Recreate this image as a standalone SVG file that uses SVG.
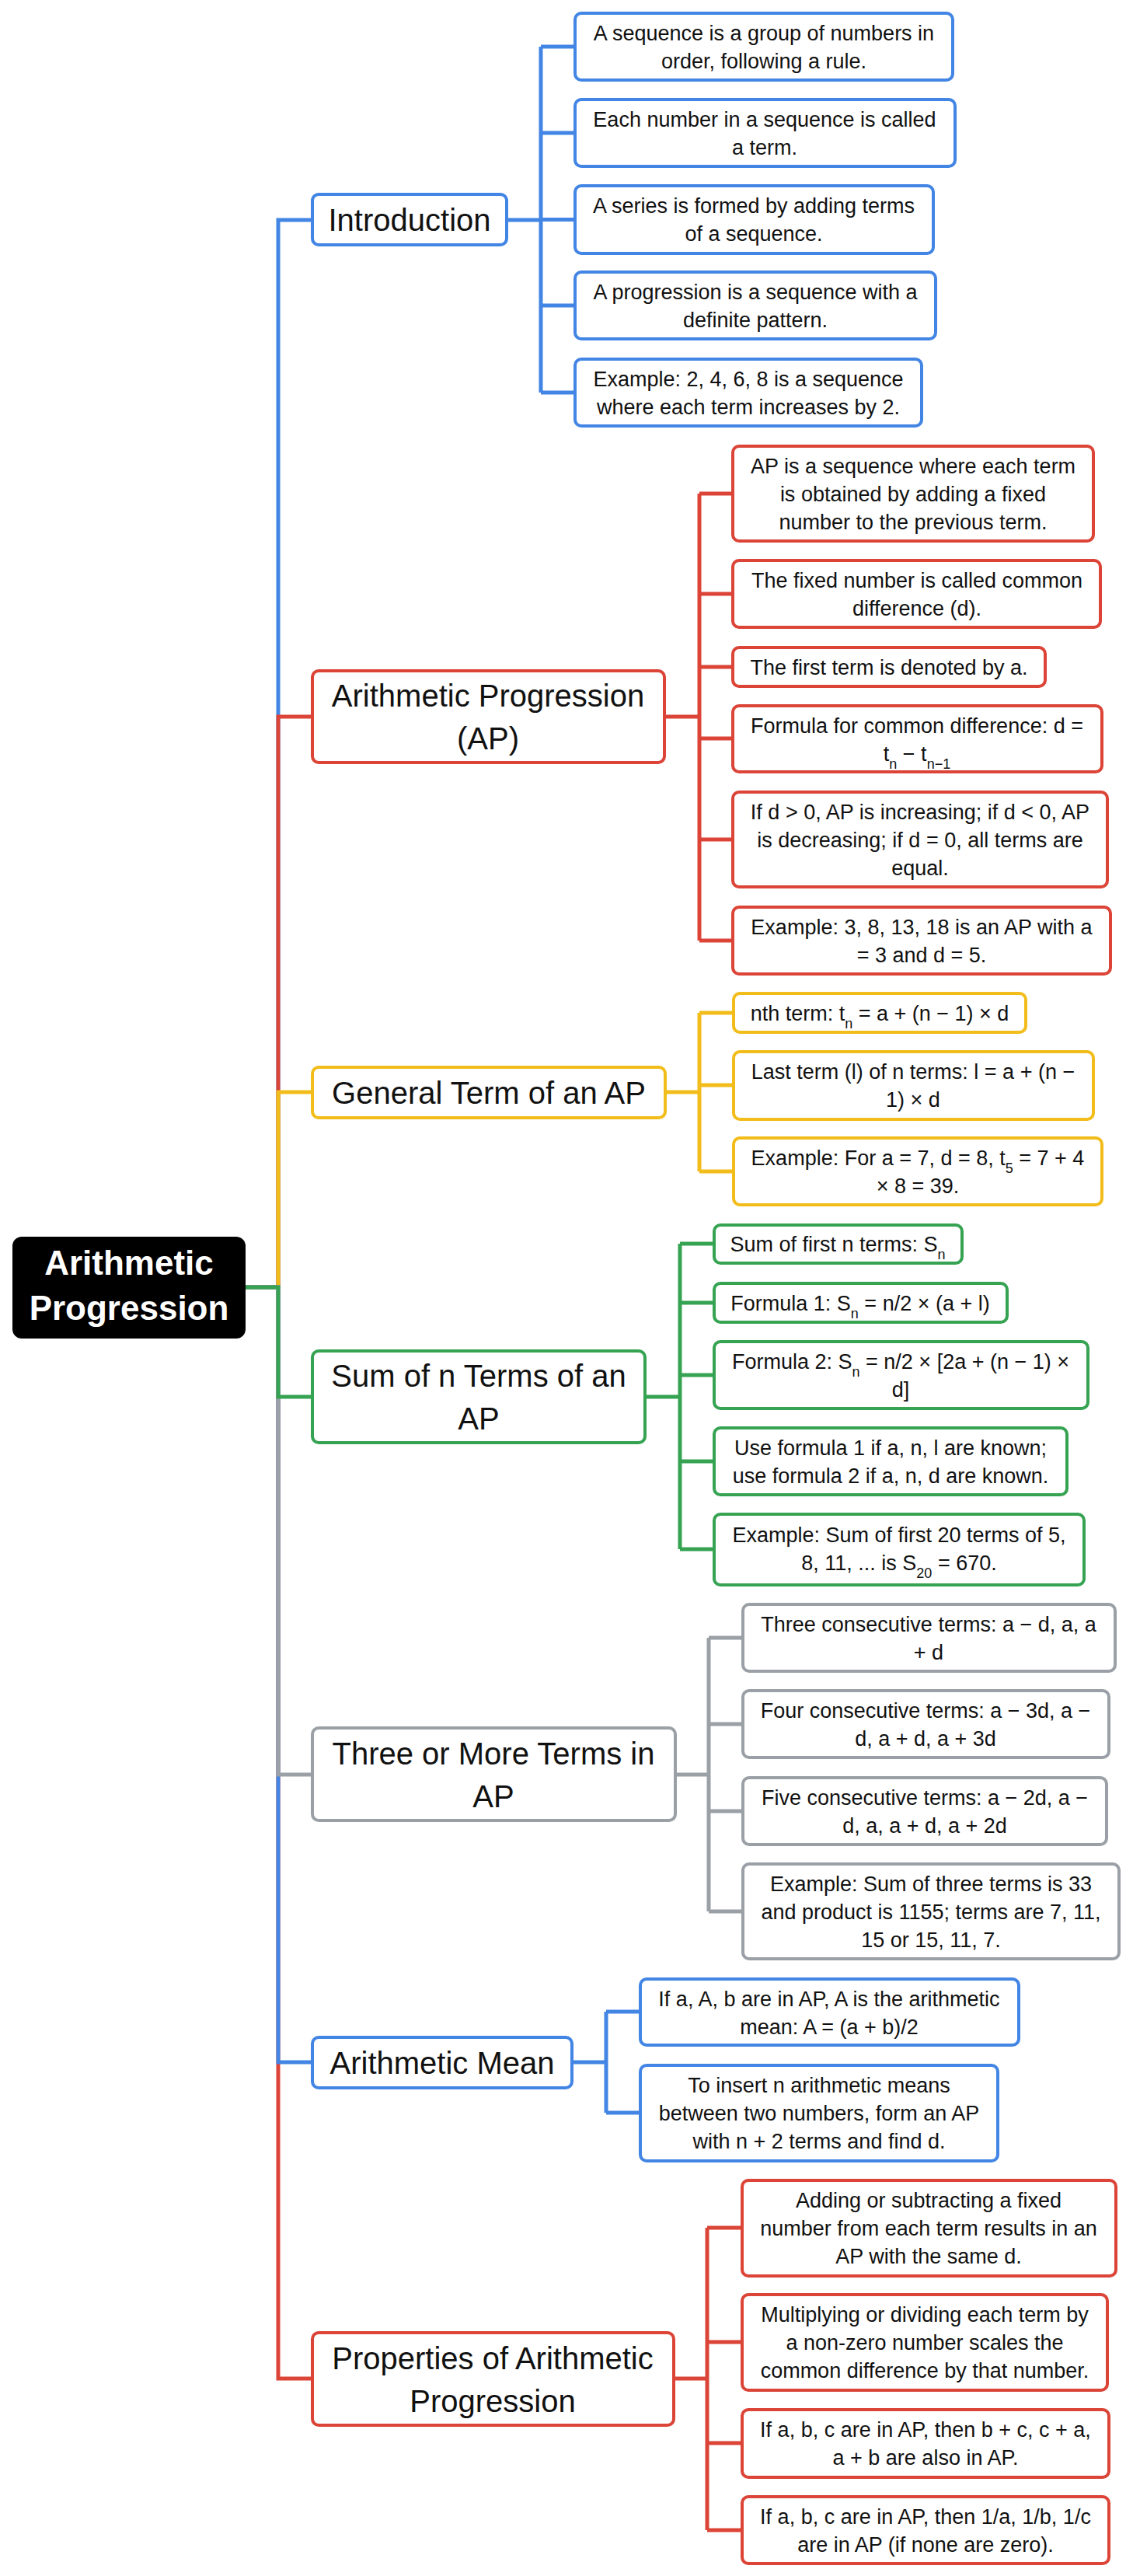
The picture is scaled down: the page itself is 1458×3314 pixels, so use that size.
<svg xmlns="http://www.w3.org/2000/svg" width="1458" height="3314" viewBox="0 0 1458 3314">
<style>
.bx{fill:#fff;stroke-width:4}
.lf{font-family:"Liberation Sans",Arial,sans-serif;font-size:27px;fill:#111;text-anchor:middle}
.tt{font-family:"Liberation Sans",Arial,sans-serif;font-size:40px;fill:#111;text-anchor:middle}
.c{fill:none;stroke-width:5}
.b{stroke:#4285e4}.r{stroke:#db4437}.y{stroke:#f2bd1b}.g{stroke:#36a352}.k{stroke:#9aa0a6}
.s{font-size:18px;baseline-shift:sub}
</style>
<rect width="1458" height="3314" fill="#fff"/>
<g id="connectors">
<path class="c b" d="M316,1656H358V283H402"/>
<path class="c r" d="M316,1656H358V922H402"/>
<path class="c y" d="M316,1656H358V1405H402"/>
<path class="c r" d="M316,1656H358V3060H402"/>
<path class="c b" d="M316,1656H358V2653H402"/>
<path class="c k" d="M316,1656H358V2283H402"/>
<path class="c g" d="M316,1656H358V1797H402"/>
<path class="c b" d="M652,283H696M696,60V505M696,60H740M696,171H740M696,282.5H740M696,393H740M696,505H740"/>
<path class="c r" d="M855,922H900M900,635V1210M900,635H943M900,764H943M900,858H943M900,950H943M900,1080H943M900,1210H943"/>
<path class="c y" d="M856,1405H900M900,1303V1507M900,1303H944M900,1396H944M900,1507H944"/>
<path class="c g" d="M830,1797H875M875,1600V1993M875,1600H919M875,1676H919M875,1769H919M875,1880H919M875,1993H919"/>
<path class="c k" d="M869,2283H912M912,2107V2459M912,2107H956M912,2218H956M912,2330H956M912,2459H956"/>
<path class="c b" d="M736,2653H780M780,2588V2718M780,2588H824M780,2718H824"/>
<path class="c r" d="M867,3060H910M910,2866V3255M910,2866H955M910,3013H955M910,3143H955M910,3255H955"/>
</g>
<g id="root"><rect x="16" y="1591" width="300" height="131" rx="12" fill="#000"/>
<text font-family="Liberation Sans,Arial,sans-serif" font-weight="bold" font-size="44" fill="#fff" text-anchor="middle"><tspan x="166" y="1640">Arithmetic</tspan><tspan x="166" y="1698">Progression</tspan></text></g>

<g id="intro"><rect class="bx b" x="402" y="250" width="250" height="65" rx="8"/><text class="tt" x="527" y="297">Introduction</text></g>
<g id="i1"><rect class="bx b" x="740" y="17" width="486" height="86" rx="8"/><text class="lf"><tspan x="983" y="52">A sequence is a group of numbers in</tspan><tspan x="983" y="88">order, following a rule.</tspan></text></g>
<g id="i2"><rect class="bx b" x="740" y="128" width="489" height="86" rx="8"/><text class="lf"><tspan x="984" y="163">Each number in a sequence is called</tspan><tspan x="984" y="199">a term.</tspan></text></g>
<g id="i3"><rect class="bx b" x="740" y="239" width="461" height="87" rx="8"/><text class="lf"><tspan x="970" y="274">A series is formed by adding terms</tspan><tspan x="970" y="310">of a sequence.</tspan></text></g>
<g id="i4"><rect class="bx b" x="740" y="350" width="464" height="86" rx="8"/><text class="lf"><tspan x="972" y="385">A progression is a sequence with a</tspan><tspan x="972" y="421">definite pattern.</tspan></text></g>
<g id="i5"><rect class="bx b" x="740" y="462" width="446" height="86" rx="8"/><text class="lf"><tspan x="963" y="497">Example: 2, 4, 6, 8 is a sequence</tspan><tspan x="963" y="533">where each term increases by 2.</tspan></text></g>

<g id="ap"><rect class="bx r" x="402" y="863" width="453" height="118" rx="8"/><text class="tt"><tspan x="628" y="909">Arithmetic Progression</tspan><tspan x="628" y="964">(AP)</tspan></text></g>
<g id="a1"><rect class="bx r" x="943" y="574" width="464" height="122" rx="8"/><text class="lf"><tspan x="1175" y="609">AP is a sequence where each term</tspan><tspan x="1175" y="645">is obtained by adding a fixed</tspan><tspan x="1175" y="681">number to the previous term.</tspan></text></g>
<g id="a2"><rect class="bx r" x="943" y="721" width="473" height="86" rx="8"/><text class="lf"><tspan x="1180" y="756">The fixed number is called common</tspan><tspan x="1180" y="792">difference (d).</tspan></text></g>
<g id="a3"><rect class="bx r" x="943" y="833" width="402" height="50" rx="8"/><text class="lf" x="1144" y="868">The first term is denoted by a.</text></g>
<g id="a4"><rect class="bx r" x="943" y="908" width="475" height="85" rx="8"/><text class="lf"><tspan x="1180" y="943">Formula for common difference: d =</tspan><tspan x="1180" y="979">t<tspan class="s">n</tspan> − t<tspan class="s">n−1</tspan></tspan></text></g>
<g id="a5"><rect class="bx r" x="943" y="1019" width="482" height="122" rx="8"/><text class="lf"><tspan x="1184" y="1054">If d &gt; 0, AP is increasing; if d &lt; 0, AP</tspan><tspan x="1184" y="1090">is decreasing; if d = 0, all terms are</tspan><tspan x="1184" y="1126">equal.</tspan></text></g>
<g id="a6"><rect class="bx r" x="943" y="1167" width="486" height="86" rx="8"/><text class="lf"><tspan x="1186" y="1202">Example: 3, 8, 13, 18 is an AP with a</tspan><tspan x="1186" y="1238">= 3 and d = 5.</tspan></text></g>

<g id="gen"><rect class="bx y" x="402" y="1373" width="454" height="65" rx="8"/><text class="tt" x="629" y="1420">General Term of an AP</text></g>
<g id="g1"><rect class="bx y" x="944" y="1278" width="376" height="50" rx="8"/><text class="lf" x="1132" y="1313">nth term: t<tspan class="s">n</tspan><tspan> = a + (n − 1) × d</tspan></text></g>
<g id="g2"><rect class="bx y" x="944" y="1353" width="463" height="87" rx="8"/><text class="lf"><tspan x="1175" y="1388">Last term (l) of n terms: l = a + (n −</tspan><tspan x="1175" y="1424">1) × d</tspan></text></g>
<g id="g3"><rect class="bx y" x="944" y="1464" width="474" height="86" rx="8"/><text class="lf"><tspan x="1181" y="1499">Example: For a = 7, d = 8, t<tspan class="s">5</tspan><tspan> = 7 + 4</tspan></tspan><tspan x="1181" y="1535">× 8 = 39.</tspan></text></g>

<g id="sum"><rect class="bx g" x="402" y="1738" width="428" height="118" rx="8"/><text class="tt"><tspan x="616" y="1784">Sum of n Terms of an</tspan><tspan x="616" y="1839">AP</tspan></text></g>
<g id="s1"><rect class="bx g" x="919" y="1576" width="319" height="49" rx="8"/><text class="lf" x="1078" y="1610">Sum of first n terms: S<tspan class="s">n</tspan></text></g>
<g id="s2"><rect class="bx g" x="919" y="1651" width="377" height="50" rx="8"/><text class="lf" x="1107" y="1686">Formula 1: S<tspan class="s">n</tspan><tspan> = n/2 × (a + l)</tspan></text></g>
<g id="s3"><rect class="bx g" x="919" y="1726" width="481" height="86" rx="8"/><text class="lf"><tspan x="1159" y="1761">Formula 2: S<tspan class="s">n</tspan><tspan> = n/2 × [2a + (n − 1) ×</tspan></tspan><tspan x="1159" y="1797">d]</tspan></text></g>
<g id="s4"><rect class="bx g" x="919" y="1837" width="454" height="86" rx="8"/><text class="lf"><tspan x="1146" y="1872">Use formula 1 if a, n, l are known;</tspan><tspan x="1146" y="1908">use formula 2 if a, n, d are known.</tspan></text></g>
<g id="s5"><rect class="bx g" x="919" y="1948" width="476" height="91" rx="8"/><text class="lf"><tspan x="1157" y="1984">Example: Sum of first 20 terms of 5,</tspan><tspan x="1157" y="2020">8, 11, ... is S<tspan class="s">20</tspan><tspan> = 670.</tspan></tspan></text></g>

<g id="three"><rect class="bx k" x="402" y="2223" width="467" height="119" rx="8"/><text class="tt"><tspan x="635" y="2270">Three or More Terms in</tspan><tspan x="635" y="2325">AP</tspan></text></g>
<g id="t1"><rect class="bx k" x="956" y="2064" width="479" height="86" rx="8"/><text class="lf"><tspan x="1195" y="2099">Three consecutive terms: a − d, a, a</tspan><tspan x="1195" y="2135">+ d</tspan></text></g>
<g id="t2"><rect class="bx k" x="956" y="2175" width="471" height="86" rx="8"/><text class="lf"><tspan x="1191" y="2210">Four consecutive terms: a − 3d, a −</tspan><tspan x="1191" y="2246">d, a + d, a + 3d</tspan></text></g>
<g id="t3"><rect class="bx k" x="956" y="2287" width="468" height="86" rx="8"/><text class="lf"><tspan x="1190" y="2322">Five consecutive terms: a − 2d, a −</tspan><tspan x="1190" y="2358">d, a, a + d, a + 2d</tspan></text></g>
<g id="t4"><rect class="bx k" x="956" y="2398" width="484" height="122" rx="8"/><text class="lf"><tspan x="1198" y="2433">Example: Sum of three terms is 33</tspan><tspan x="1198" y="2469">and product is 1155; terms are 7, 11,</tspan><tspan x="1198" y="2505">15 or 15, 11, 7.</tspan></text></g>

<g id="mean"><rect class="bx b" x="402" y="2621" width="334" height="65" rx="8"/><text class="tt" x="569" y="2668">Arithmetic Mean</text></g>
<g id="m1"><rect class="bx b" x="824" y="2546" width="487" height="85" rx="8"/><text class="lf"><tspan x="1067" y="2581">If a, A, b are in AP, A is the arithmetic</tspan><tspan x="1067" y="2617">mean: A = (a + b)/2</tspan></text></g>
<g id="m2"><rect class="bx b" x="824" y="2657" width="460" height="123" rx="8"/><text class="lf"><tspan x="1054" y="2692">To insert n arithmetic means</tspan><tspan x="1054" y="2728">between two numbers, form an AP</tspan><tspan x="1054" y="2764">with n + 2 terms and find d.</tspan></text></g>

<g id="props"><rect class="bx r" x="402" y="3001" width="465" height="119" rx="8"/><text class="tt"><tspan x="634" y="3048">Properties of Arithmetic</tspan><tspan x="634" y="3103">Progression</tspan></text></g>
<g id="p1"><rect class="bx r" x="955" y="2805" width="481" height="123" rx="8"/><text class="lf"><tspan x="1195" y="2840">Adding or subtracting a fixed</tspan><tspan x="1195" y="2876">number from each term results in an</tspan><tspan x="1195" y="2912">AP with the same d.</tspan></text></g>
<g id="p2"><rect class="bx r" x="955" y="2952" width="470" height="123" rx="8"/><text class="lf"><tspan x="1190" y="2987">Multiplying or dividing each term by</tspan><tspan x="1190" y="3023">a non-zero number scales the</tspan><tspan x="1190" y="3059">common difference by that number.</tspan></text></g>
<g id="p3"><rect class="bx r" x="955" y="3100" width="472" height="87" rx="8"/><text class="lf"><tspan x="1191" y="3135">If a, b, c are in AP, then b + c, c + a,</tspan><tspan x="1191" y="3171">a + b are also in AP.</tspan></text></g>
<g id="p4"><rect class="bx r" x="955" y="3212" width="472" height="86" rx="8"/><text class="lf"><tspan x="1191" y="3247">If a, b, c are in AP, then 1/a, 1/b, 1/c</tspan><tspan x="1191" y="3283">are in AP (if none are zero).</tspan></text></g>
</svg>
